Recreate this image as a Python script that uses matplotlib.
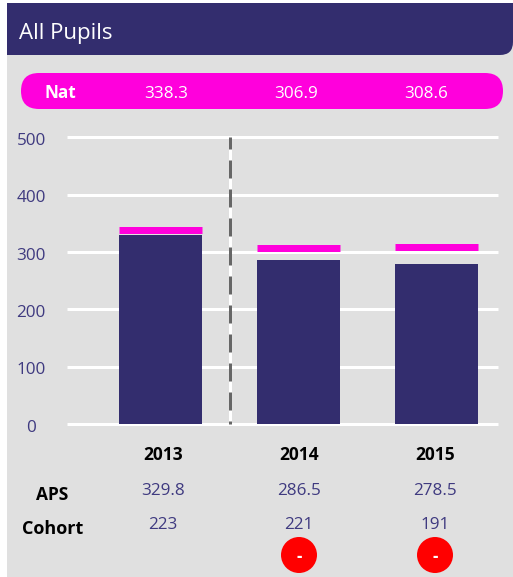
import matplotlib
matplotlib.use("Agg")
import matplotlib.pyplot as plt
from matplotlib.patches import Rectangle, Circle, FancyBboxPatch, PathPatch
from matplotlib.path import Path
from matplotlib.transforms import ScaledTranslation

plt.rcParams['font.family'] = ['Open Sans', 'DejaVu Sans']
plt.rcParams['lines.scale_dashes'] = False

years = ['2013', '2014', '2015']
aps = [329.8, 286.5, 278.5]
nat = [338.3, 306.9, 308.6]
cohort = [223, 221, 191]
yticks = [0, 100, 200, 300, 400, 500]
flags = [None, '-', '-']

NAVY = '#332D6E'
MAGENTA = '#FF00DC'
GREY = '#E0E0E0'
TEXTNAVY = '#3F3A80'
W, H = 513, 577
PX = 0.72  # points per pixel at dpi 100

fig = plt.figure(figsize=(W / 100, H / 100), dpi=100, facecolor='white')

# pixel-space layer for the panel furniture
bg = fig.add_axes([0, 0, 1, 1], zorder=0)
bg.set_xlim(0, W)
bg.set_ylim(H, 0)
bg.axis('off')
bg.add_patch(Rectangle((7, 3), W - 7, H - 3, fc=GREY, ec='none'))

r = 13
hdr = Path([(7, 3), (W, 3), (W, 55 - r), (W, 55), (W - r, 55), (7, 55), (7, 3)],
           [Path.MOVETO, Path.LINETO, Path.LINETO, Path.CURVE3, Path.CURVE3, Path.LINETO, Path.CLOSEPOLY])
bg.add_patch(PathPatch(hdr, fc=NAVY, ec='none'))
bg.text(19, 31.5, 'All Pupils', color='white', fontsize=16, ha='left', va='center_baseline')

bg.add_patch(FancyBboxPatch((21 + 18, 73 + 18), 482 - 36, 0,
                            boxstyle='round,pad=18,rounding_size=18',
                            fc=MAGENTA, ec='none'))
bg.text(60.5, 91, 'Nat', color='white', fontsize=12.4, fontweight='bold', ha='center', va='center_baseline')
for xp, v in zip([166, 296, 426], nat):
    bg.text(xp, 92, f'{v:.1f}', color='white', fontsize=12.3, ha='center', va='center_baseline')

# table under the chart
col_x = [163, 299, 435]
for xp, y_, a, c, fl in zip(col_x, years, aps, cohort, flags):
    bg.text(xp, 453, y_, color='black', fontsize=12.5, fontweight='bold', ha='center', va='center_baseline')
    bg.text(xp, 489, f'{a:.1f}', color=TEXTNAVY, fontsize=12.3, ha='center', va='center_baseline')
    bg.text(xp, 523, f'{c}', color=TEXTNAVY, fontsize=12.3, ha='center', va='center_baseline')
    if fl:
        bg.add_patch(Circle((xp, 555), 18, fc='#FF0000', ec='none'))
        bg.text(xp, 555, fl, color='white', fontsize=12, fontweight='bold', ha='center', va='center_baseline')
bg.text(52.5, 493, 'APS', color='black', fontsize=12.5, fontweight='bold', ha='center', va='center_baseline')
bg.text(52.5, 527, 'Cohort', color='black', fontsize=13, fontweight='bold', ha='center', va='center_baseline')

# chart
x0, x1, ytop, ybot = 67, 498, 137.5, 424
ax = fig.add_axes([x0 / W, 1 - ybot / H, (x1 - x0) / W, (ybot - ytop) / H], zorder=1)
ax.patch.set_alpha(0)
for s in ax.spines.values():
    s.set_visible(False)
ax.set_xlim((x0 - 160.5) / 138, (x1 - 160.5) / 138)
ax.set_ylim(0, 500)
xs = list(range(len(years)))
bw = 83 / 138

ax.set_yticks(yticks)
ax.set_xticks([])
ax.tick_params(axis='y', length=0, pad=(x0 - 31) * PX, labelsize=12.3, labelcolor=TEXTNAVY)
shift = ScaledTranslation(0, -1.5 / 100, fig.dpi_scale_trans)
for lab in ax.get_yticklabels():
    lab.set_ha('center')
    lab.set_transform(lab.get_transform() + shift)
ax.grid(axis='y', color='white', lw=3 * PX, zorder=1, clip_on=False, solid_capstyle='butt')
for gl in ax.get_ygridlines():
    gl.set_clip_on(False)
ax.set_axisbelow(True)

ax.bar(xs, aps, width=bw, color=NAVY, zorder=3)
ax.hlines(nat, [x - bw / 2 for x in xs], [x + bw / 2 for x in xs],
          color=MAGENTA, lw=7 * PX, zorder=4)

divider = (229.5 - 160.5) / 138
ax.plot([divider, divider], [500, 0], color='white', lw=3 * PX, zorder=2,
        solid_capstyle='butt', clip_on=False)
ax.plot([divider, divider], [500, 0], color='#666666', lw=3 * PX, zorder=2.5,
        linestyle=(6 * PX, (18 * PX, 11 * PX)), dash_capstyle='butt', clip_on=False)

fig.savefig('out.png', dpi=100, facecolor='white')
